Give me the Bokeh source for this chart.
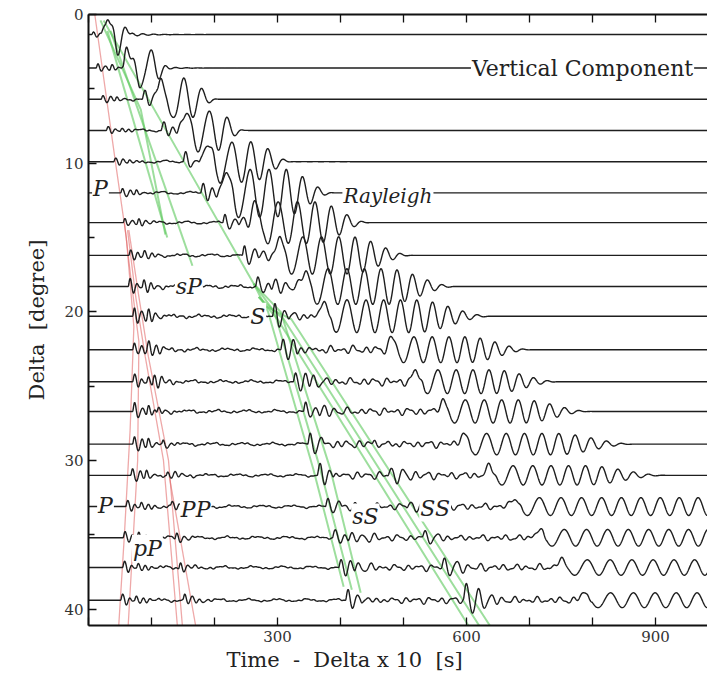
import numpy as np
from bokeh.plotting import figure
from bokeh.models import Range1d, FixedTicker, LinearAxis, Label, Title
from bokeh.embed import file_html
from bokeh.resources import INLINE

# ---------------- data ----------------
deltas = [1.35, 3.6, 5.7, 7.8, 9.9, 12.0, 14.0, 16.2, 18.3, 20.3,
          22.55, 24.7, 26.7, 28.9, 31.0, 33.1, 35.2, 37.2, 39.4]
p_time = [5, 12, 20, 28, 40, 51, 55, 64, 63, 70, 70, 70, 70, 70, 67, 59, 55, 54, 51]
p_amp = [0.15, 0.2, 0.2, 0.2, 0.2, 0.22, 0.25, 0.3, 0.45, 0.45,
         0.42, 0.42, 0.42, 0.38, 0.34, 0.34, 0.38, 0.34, 0.34]
pp_time = [0, 0, 0, 0, 0, 0, 0, 0, 0, 0, 94, 101, 108, 116, 123, 130, 137, 143, 150]
pp_amp = [0, 0, 0, 0, 0, 0, 0, 0, 0, 0, 0.25, 0.25, 0.25, 0.25, 0.25, 0.2, 0.25, 0.3, 0.3]
s_time = [20, 55, 85, 115, 150, 178, 213, 244, 265, 292,
          305, 325, 341, 348, 363, 376, 387, 397, 408]
s_amp = [0.3, 0.4, 0.4, 0.45, 0.5, 0.5, 0.5, 0.55, 0.6, 0.6,
         0.6, 0.6, 0.55, 0.55, 0.5, 0.45, 0.45, 0.5, 0.5]
ss_time = [0, 0, 0, 0, 0, 0, 0, 0, 0, 0, 0, 0, 0, 450, 475, 505, 530, 560, 595]
ss_amp = [0, 0, 0, 0, 0, 0, 0, 0, 0, 0, 0, 0, 0, 0.3, 0.35, 0.3, 0.35, 0.4, 0.9]
ray_start = [20, 50, 100, 140, 175, 205, 250, 290, 330, 360,
             468, 506, 548, 580, 622, 660, 698, 733, 770]
ray_end = [70, 130, 205, 250, 325, 392, 448, 516, 586, 643,
           706, 750, 800, 870, 920, 1400, 1400, 1400, 1400]
ray_amp = [1.3, 1.3, 1.35, 1.35, 1.35, 1.6, 1.4, 1.25, 1.2, 1.1,
           0.87, 0.8, 0.78, 0.72, 0.65, 0.6, 0.56, 0.52, 0.5]
ray_period = [22, 27, 28, 28, 28, 27, 27, 26, 26, 26, 25, 25, 26, 27, 27, 29, 30, 31, 31]

red_lines = [
    [(10, 0), (43, 10), (60, 15), (72, 21), (66, 28), (57, 35), (48, 41.1)],
    [(57, 14), (68, 18), (80, 22), (78, 30), (63, 41.1)],
    [(62, 14.5), (75, 19), (90, 23), (119, 30), (141, 41.1)],
    [(64, 14.5), (80, 19), (95, 23), (127, 30), (149, 41.1)],
    [(128, 31), (170, 41.1)],
]
green_lines = [
    [(24, 0.4), (157, 10.3), (262, 18.1), (285, 20), (357, 30.6), (405, 38.5)],
    [(19, 0.4), (83, 6.4), (122, 14.8)],
    [(30, 1.1), (125, 15)],
    [(35, 1.1), (165, 16.9)],
    [(262, 18.1), (295, 20), (368, 30.6), (418, 38.7)],
    [(262, 18.1), (305, 20), (384, 30.6), (432, 38.9)],
    [(270, 19), (300, 20.5), (603, 41.1)],
    [(270, 19), (310, 20.5), (620, 41.1)],
    [(275, 19.5), (322, 20.5), (637, 41.1)],
]

x_major = [300, 600, 900]
x_minor = [0, 100, 200, 400, 500, 700, 800]
y_major = [0, 10, 20, 30, 40]
y_minor = [5, 15, 25, 35]

# ---------------- waveform synthesis from read parameters ----------------
t = np.arange(0, 983, 0.5)
dt = 0.5


def wavelet(t0, A, T, decay=1.3):
    x = t - t0
    out = np.zeros_like(t)
    m = x >= 0
    xm = x[m]
    out[m] = A * 1.7 * np.sin(2 * np.pi * xm / T) * np.exp(-xm / (decay * T)) * (1 - np.exp(-xm / (0.12 * T)))
    return out


def texture(base, k):
    return (0.55 * np.sin(2 * np.pi * t / base + 1.3 * k)
            + 0.35 * np.sin(2 * np.pi * t / (0.61 * base) + 2.1 * k + 0.7)
            + 0.3 * np.sin(2 * np.pi * t / (1.73 * base) + 0.9 * k + 1.9))


def window(a, b, edge=6.0):
    up = np.clip((t - a) / edge, 0, 1)
    dn = np.clip((b - t) / edge, 0, 1)
    return up * dn


def rayleigh(a, b, A, T):
    x = t - a
    dur = b - a
    frac = np.clip(x / dur, 0, 1)
    per = T * (1.15 - 0.3 * frac) * (1 + 1.0 * np.exp(-np.clip(x, 0, None) / 25.0))
    ph = np.cumsum(np.where(x >= 0, 2 * np.pi / per * dt, 0.0))
    r = np.clip(x / (0.6 * T), 0, 1)
    rise = r * r * (3 - 2 * r)
    taper = np.where(frac < 0.55, 1.0, 0.5 + 0.5 * np.cos(np.pi * (frac - 0.55) / 0.45))
    env = np.where((x >= 0) & (x <= dur), rise * taper, 0.0)
    return A * env * np.sin(ph)


xs, ys = [], []
for i, d in enumerate(deltas):
    P, pa = p_time[i], p_amp[i]
    S, sa = s_time[i], s_amp[i]
    R0 = ray_start[i]
    sig = wavelet(P, pa, 12) + wavelet(P + 22, 0.6 * pa, 11)
    pdec = 0.35 + 0.65 * np.exp(-np.clip(t - P, 0, None) / 60.0)
    sig += pa * 0.4 * texture(13, i) * window(P, S) * pdec
    sig += 0.07 * np.sin(2 * np.pi * t / 47 + i) * window(P + 40, S)
    if pp_amp[i] > 0:
        sig += wavelet(pp_time[i], pp_amp[i], 12)
    sig += wavelet(S, sa, 16) + wavelet(S + 25, 0.5 * sa, 18)
    sig += sa * 0.45 * texture(19, i + 5) * window(S, R0 + 30)
    if ss_amp[i] > 0:
        sig += wavelet(ss_time[i], ss_amp[i], 20)
    sig += rayleigh(R0, ray_end[i], ray_amp[i], ray_period[i])
    xs.append(t.tolist())
    ys.append((d - sig).tolist())

# ---------------- figure ----------------
p = figure(width=707, height=680, x_range=Range1d(0, 982.5), y_range=Range1d(41.1, 0),
           output_backend="svg", toolbar_location=None,
           min_border_left=88, min_border_right=0, min_border_top=14, min_border_bottom=55)
p.outline_line_color = None
p.xgrid.visible = False
p.ygrid.visible = False
p.background_fill_color = "white"

FONT = "DejaVu Serif"
NB = "\u00a0"

for ln in red_lines:
    p.line([q[0] for q in ln], [q[1] for q in ln], line_color="#e06060", line_alpha=0.55, line_width=1.3)
for ln in green_lines:
    p.line([q[0] for q in ln], [q[1] for q in ln], line_color="#5cc85c", line_alpha=0.6, line_width=2)

p.multi_line(xs=xs, ys=ys, line_color="#1e1e1e", line_width=1.4)

xt = FixedTicker(ticks=x_major, minor_ticks=x_minor)
yt = FixedTicker(ticks=y_major, minor_ticks=y_minor)

for ax in p.xaxis + p.yaxis:
    ax.axis_line_width = 2
    ax.axis_line_color = "#111"
    ax.major_tick_in = 8
    ax.major_tick_out = 0
    ax.minor_tick_in = 6
    ax.minor_tick_out = 0
    ax.major_tick_line_width = 1.3
    ax.minor_tick_line_width = 1.3
    ax.major_tick_line_color = "#111"
    ax.minor_tick_line_color = "#111"
    ax.major_label_text_font = FONT
    ax.major_label_text_font_size = "15px"
    ax.major_label_text_color = "#333"
    ax.axis_label_text_font = FONT
    ax.axis_label_text_font_size = "21px"
    ax.axis_label_text_font_style = "normal"
    ax.axis_label_text_color = "#222"

p.xaxis.ticker = xt
p.xaxis.minor_tick_in = 8
p.yaxis.ticker = yt
p.yaxis.axis_label = f"Delta{NB}{NB}[degree]"
p.xaxis.major_label_standoff = 5
p.yaxis.major_label_standoff = 5
p.yaxis.axis_label_standoff = 12

# top axis: tick marks only (all as minor ticks, so no labels are drawn)
top = LinearAxis(ticker=FixedTicker(ticks=[], minor_ticks=sorted(x_major + x_minor)),
                 axis_line_width=2, axis_line_color="#111",
                 major_tick_in=0, major_tick_out=0, minor_tick_in=8, minor_tick_out=0,
                 minor_tick_line_width=1.3, minor_tick_line_color="#111")
p.add_layout(top, "above")

# x axis title, set left of the frame centre as in the reference
p.add_layout(Title(text=f"Time{NB}{NB}-{NB}{NB}Delta{NB}x{NB}10{NB}{NB}[s]",
                   align="left", offset=138, text_font=FONT, text_font_size="21px",
                   text_font_style="normal", text_color="#222", standoff=2), "below")


def lab(text, x, y, italic=True, size="22px", align="left"):
    p.add_layout(Label(x=x, y=y, text=text, text_font=FONT,
                       text_font_style="italic" if italic else "normal",
                       text_font_size=size, text_align=align, text_baseline="middle",
                       text_color="#222", background_fill_color="white", padding=1))


lab("Vertical Component", 607, 3.6, italic=False, size="22px")
lab("Rayleigh", 403, 12.2, size="20px")
lab("P", 19, 11.7, align="center")
lab("sP", 137, 18.3)
lab("S", 255, 20.3)
lab("P", 27, 33.0, align="center")
lab("PP", 145, 33.3)
lab("pP", 69, 35.9)
lab("sS", 417, 33.8)
lab("SS", 525, 33.2)

open("out.html", "w").write(file_html(p, INLINE))
